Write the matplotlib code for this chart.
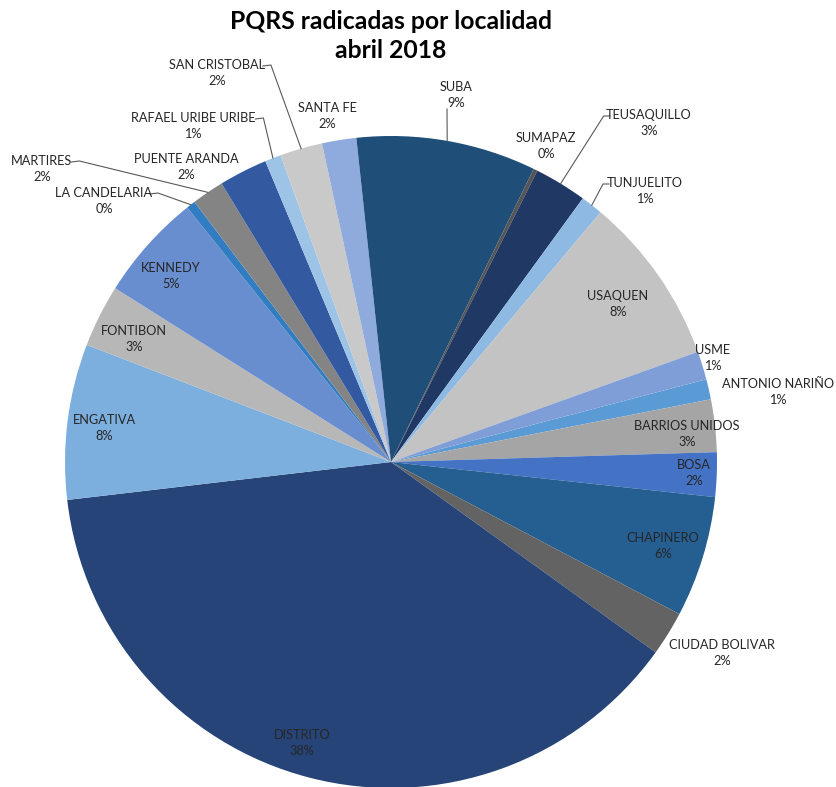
import numpy as np
import matplotlib
matplotlib.use('Agg')
import matplotlib.pyplot as plt

# data (share of PQRS per locality)
localidades = ['ANTONIO NARIÑO', 'BARRIOS UNIDOS', 'BOSA', 'CHAPINERO', 'CIUDAD BOLIVAR',
               'DISTRITO', 'ENGATIVA', 'FONTIBON', 'KENNEDY', 'LA CANDELARIA', 'MARTIRES',
               'PUENTE ARANDA', 'RAFAEL URIBE URIBE', 'SAN CRISTOBAL', 'SANTA FE', 'SUBA',
               'SUMAPAZ', 'TEUSAQUILLO', 'TUNJUELITO', 'USAQUEN', 'USME']
valores = [1.0, 2.6, 2.2, 6.0, 2.2,
           38.2, 7.7, 3.1, 5.3, 0.45, 1.6,
           2.4, 0.8, 2.1, 1.7, 8.9,
           0.2, 2.6, 1.1, 8.4, 1.4]
colores = ['#5B9BD5', '#A5A5A5', '#4472C4', '#255E91', '#636363',
           '#264478', '#7CAFDD', '#B7B7B7', '#698ED0', '#327DC2', '#848484',
           '#335AA1', '#9DC3E6', '#C9C9C9', '#8FAADC', '#1F4E79',
           '#555555', '#203864', '#8DB9E2', '#C3C3C3', '#7F9ED8']

# label layout in image pixels (x, y of text centre); leader = True draws a line
pos_labels = {
    'ANTONIO NARIÑO': (778, 392, False),
    'BARRIOS UNIDOS': (687, 434, False),
    'BOSA': (694, 473, False),
    'CHAPINERO': (663, 546, False),
    'CIUDAD BOLIVAR': (722, 653, False),
    'DISTRITO': (302, 743, False),
    'ENGATIVA': (104, 428, False),
    'FONTIBON': (134, 339, False),
    'KENNEDY': (171, 276, False),
    'LA CANDELARIA': (104, 201, True),
    'MARTIRES': (42, 169, True),
    'PUENTE ARANDA': (186, 167, False),
    'RAFAEL URIBE URIBE': (193, 126, True),
    'SAN CRISTOBAL': (217, 73, True),
    'SANTA FE': (327, 116, False),
    'SUBA': (456, 95, True),
    'SUMAPAZ': (546, 146, False),
    'TEUSAQUILLO': (649, 123, True),
    'TUNJUELITO': (645, 191, True),
    'USAQUEN': (618, 304, False),
    'USME': (713, 358, False),
}

W, H = 836, 787
cx, cy, R = 391, 462, 326

fig = plt.figure(figsize=(W / 100, H / 100), dpi=100)
ax = fig.add_axes([0, 0, 1, 1])

wedges, _ = ax.pie(valores, colors=colores, startangle=14.7, counterclock=False,
                   center=(cx, H - cy), radius=R, frame=True,
                   wedgeprops=dict(linewidth=0))
ax.set_xlim(0, W)
ax.set_ylim(0, H)
ax.set_aspect('equal')
ax.axis('off')

total = sum(valores)
font = ['Lato', 'DejaVu Sans']
line_kw = dict(color='#595959', lw=0.8)
for w, name, v in zip(wedges, localidades, valores):
    tx, ty, leader = pos_labels[name]
    ax.text(tx, H - ty, '%s\n%.0f%%' % (name, v / total * 100), ha='center', va='center',
            fontsize=9.2, color='#262626', family=font, linespacing=1.42)
    if not leader:
        continue
    mid = np.deg2rad((w.theta1 + w.theta2) / 2)
    ex, ey = cx + R * np.cos(mid), cy - R * np.sin(mid)
    half = len(name) * 3.3
    if name == 'SUBA':
        sx, sy = tx - 9, ty + 14
        ax.plot([sx, ex], [H - sy, H - ey], **line_kw)
    elif name in ('TEUSAQUILLO', 'TUNJUELITO'):
        sx, sy = tx - half - 3, ty - 7
        ax.plot([sx, sx - 6, ex], [H - sy, H - sy, H - ey], **line_kw)
    else:
        sx, sy = tx + half + 3, ty - 7
        ax.plot([sx, sx + 8, ex], [H - sy, H - sy + 1, H - ey], **line_kw)

ax.text(391, H - 36, 'PQRS radicadas por localidad\nabril 2018', ha='center', va='center',
        fontsize=17.8, fontweight='bold', color='black', family=font, linespacing=1.3)

fig.savefig('out.png', dpi=100, facecolor='white')
